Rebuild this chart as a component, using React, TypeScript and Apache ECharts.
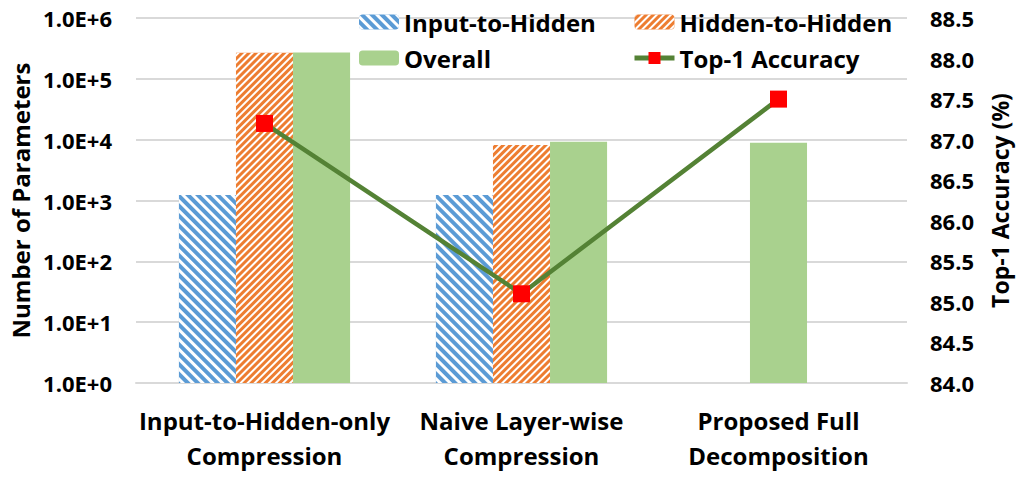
import React, { useEffect, useRef } from "react";
import * as echarts from "echarts";

const categories = [
  "Input-to-Hidden-only\nCompression",
  "Naive Layer-wise\nCompression",
  "Proposed Full\nDecomposition",
];
const inputToHidden: (number | null)[] = [1230, 1230, null];
const hiddenToHidden: (number | null)[] = [268000, 8200, null];
const overall: number[] = [270000, 9200, 8900];
// the last group has only the Overall bar, drawn centred in its category
const centredOverallIndex = 2;
const accuracy = [87.2, 85.1, 87.5];
const leftTicks = { min: 1, max: 1000000 };
const rightTicks = { min: 84, max: 88.5, interval: 0.5 };

const FONT = "Open Sans";
const BLUE = "#5b9bd5";
const ORANGE = "#ed7d31";
const GREEN = "#a9d18e";
const LINE = "#548235";
const RED = "#ff0000";

export default function App() {
  const ref = useRef<HTMLDivElement>(null);
  useEffect(() => {
    if (!ref.current) return;
    const chart = echarts.init(ref.current, undefined, { renderer: "svg" });
    const overallGrouped = overall.map((v, i) => (i === centredOverallIndex ? null : v));
    const overallCentred = overall.map((v, i) => (i === centredOverallIndex ? v : null));
    const labelStyle = { fontFamily: FONT, fontWeight: "bold" as const, fontSize: 22, color: "#000" };
    const legendText = { ...labelStyle, fontSize: 24, lineHeight: 28 };
    chart.setOption({
      animation: false,
      textStyle: { fontFamily: FONT },
      grid: { left: 135, right: 113, top: 18, bottom: 97 },
      legend: [
        {
          left: 354,
          top: 3,
          orient: "vertical",
          itemWidth: 40,
          itemHeight: 15,
          itemGap: 8,
          data: ["Input-to-Hidden", "Overall"],
          textStyle: legendText,
        },
        {
          left: 627,
          top: 3,
          orient: "vertical",
          itemWidth: 40,
          itemHeight: 15,
          itemGap: 8,
          lineStyle: { width: 5 },
          data: ["Hidden-to-Hidden", "Top-1 Accuracy"],
          textStyle: legendText,
        },
      ],
      xAxis: [
        {
          type: "category",
          data: categories,
          axisLine: { show: true, lineStyle: { color: "#d9d9d9", width: 2 } },
          axisTick: { show: false },
          axisLabel: { ...labelStyle, fontSize: 24, lineHeight: 35, margin: 20, interval: 0 },
        },
        {
          type: "category",
          data: categories,
          show: false,
        },
      ],
      yAxis: [
        {
          type: "log",
          logBase: 10,
          min: leftTicks.min,
          max: leftTicks.max,
          splitNumber: 6,
          name: "Number of Parameters",
          nameLocation: "middle",
          nameGap: 104,
          nameTextStyle: { ...labelStyle, fontSize: 24 },
          axisLine: { show: false },
          axisTick: { show: false },
          splitLine: { show: true, lineStyle: { color: "#d9d9d9", width: 2 } },
          axisLabel: {
            ...labelStyle,
            margin: 24,
            formatter: (v: number) => v.toExponential(1).toUpperCase(),
          },
        },
        {
          type: "value",
          min: rightTicks.min,
          max: rightTicks.max,
          interval: rightTicks.interval,
          name: "Top-1 Accuracy (%)",
          nameLocation: "middle",
          nameGap: 81,
          nameTextStyle: { ...labelStyle, fontSize: 23 },
          axisLine: { show: false },
          axisTick: { show: false },
          splitLine: { show: false },
          axisLabel: {
            ...labelStyle,
            margin: 23,
            formatter: (v: number) => v.toFixed(1),
          },
        },
      ],
      series: [
        {
          name: "Input-to-Hidden",
          type: "bar",
          data: inputToHidden,
          barWidth: "22.2%",
          barGap: "0%",
          itemStyle: {
            color: BLUE,
            decal: {
              symbol: "rect",
              symbolSize: 1,
              color: "#ffffff",
              dashArrayX: [1, 0],
              dashArrayY: [2.2, 3.6],
              rotation: Math.PI / 4,
            },
          },
        },
        {
          name: "Hidden-to-Hidden",
          type: "bar",
          data: hiddenToHidden,
          barWidth: "22.2%",
          barGap: "0%",
          itemStyle: {
            color: ORANGE,
            decal: {
              symbol: "rect",
              symbolSize: 1,
              color: "#ffffff",
              dashArrayX: [1, 0],
              dashArrayY: [1.9, 2.8],
              rotation: -Math.PI / 4,
            },
          },
        },
        {
          name: "Overall",
          type: "bar",
          data: overallGrouped,
          barWidth: "22.2%",
          barGap: "0%",
          itemStyle: { color: GREEN },
        },
        {
          name: "Overall",
          type: "bar",
          xAxisIndex: 1,
          data: overallCentred,
          barWidth: "22.2%",
          itemStyle: { color: GREEN },
        },
        {
          name: "Top-1 Accuracy",
          type: "line",
          yAxisIndex: 1,
          data: accuracy,
          symbol: "rect",
          symbolSize: 17,
          lineStyle: { color: LINE, width: 4.5 },
          itemStyle: { color: RED },
          z: 5,
        },
      ],
    });
    return () => chart.dispose();
  }, []);
  return (
    <div
      ref={ref}
      style={{ position: "fixed", left: 0, top: 0, width: 1020, height: 480, background: "#fff" }}
    />
  );
}
